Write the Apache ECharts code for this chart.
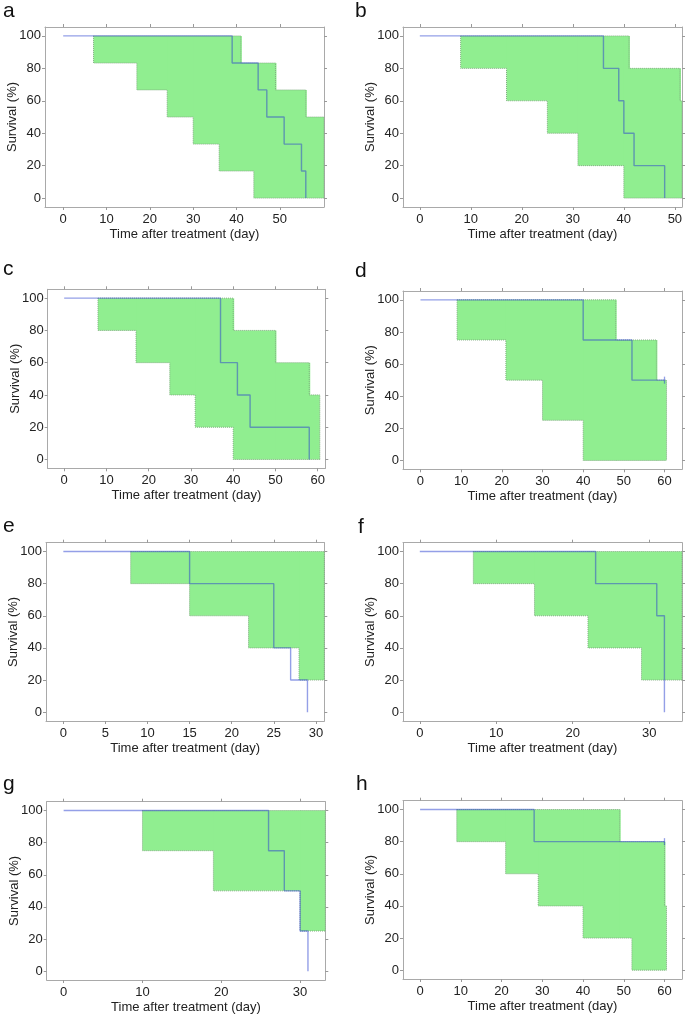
<!DOCTYPE html>
<html>
<head>
<meta charset="utf-8">
<script src="https://cdn.jsdelivr.net/npm/echarts@6/dist/echarts.min.js"></script>
<style>
  html, body { margin: 0; padding: 0; background: #fff; }
  #main { width: 685px; height: 1017px; }
</style>
</head>
<body>
<div id="main"></div>
<script>
// survival curves: [day, survival %] (step after each point)
var survA = [[0,100],[39,83.3],[45,66.7],[47,50],[51,33.3],[55,16.7],[56,0]];
var survB = [[0,100],[36,80],[39,60],[40,40],[42,20],[48,0]];
var survC = [[0,100],[37,60],[41,40],[44,20],[58,0]];
var survD = [[0,100],[40,75],[52,50],[60,50]];
var survE = [[0,100],[15,80],[25,40],[27,20],[29,0]];
var survF = [[0,100],[23,80],[31,60],[32,0]];
var survG = [[0,100],[26,75],[28,50],[30,25],[31,0]];
var survH = [[0,100],[28,80],[60,80]];

// censored marks
var censorD = [[60,50]];
var censorH = [[60,80]];

// confidence band, upper and lower steps
var upperA = [[7,100],[41,83.3],[49,66.7],[56,50]];
var lowerA = [[7,83.3],[17,66.7],[24,50],[30,33.3],[36,16.7],[44,0]];
var upperB = [[8,100],[41,80],[51,60]];
var lowerB = [[8,80],[17,60],[25,40],[31,20],[40,0]];
var upperC = [[8,100],[40,80],[50,60],[58,40]];
var lowerC = [[8,80],[17,60],[25,40],[31,20],[40,0]];
var upperD = [[9,100],[48,75],[58,50]];
var lowerD = [[9,75],[21,50],[30,25],[40,0]];
var upperE = [[8,100]];
var lowerE = [[8,80],[15,60],[22,40],[28,20]];
var upperF = [[7,100]];
var lowerF = [[7,80],[15,60],[22,40],[29,20]];
var upperG = [[10,100]];
var lowerG = [[10,75],[19,50],[30,25]];
var upperH = [[9,100],[49,80],[60,40]];
var lowerH = [[9,80],[21,60],[29,40],[40,20],[52,0]];

// tick labels
var yTicks = [0,20,40,60,80,100];
var xTicks50 = [0,10,20,30,40,50];
var xTicks60 = [0,10,20,30,40,50,60];
var xTicks30by5 = [0,5,10,15,20,25,30];
var xTicks30 = [0,10,20,30];

var panels = [
  {name:'a', box:[45,27,279,180],    xr:[-4.2,60.2], xt:xTicks50,   surv:survA, up:upperA, lo:lowerA, end:60.2, cens:[], lab:[3,1]},
  {name:'b', box:[403,27,279,180],   xr:[-3.3,51.4], xt:xTicks50,   surv:survB, up:upperB, lo:lowerB, end:51.4, cens:[], lab:[355,1]},
  {name:'c', box:[47.7,289.3,277.6,179], xr:[-3.9,61.8], xt:xTicks60, surv:survC, up:upperC, lo:lowerC, end:60.5, cens:[], lab:[3,259]},
  {name:'d', box:[403,291,279,178.3], xr:[-4.3,64.3], xt:xTicks60,  surv:survD, up:upperD, lo:lowerD, end:60.5, cens:censorD, lab:[355,261]},
  {name:'e', box:[46,542.7,278.3,178.3], xr:[-2.06,31], xt:xTicks30by5, surv:survE, up:upperE, lo:lowerE, end:31, cens:[], lab:[3,516]},
  {name:'f', box:[403,542.7,279,178.3], xr:[-2.2,34.3], xt:xTicks30, surv:survF, up:upperF, lo:lowerF, end:34.3, cens:[], lab:[358,517]},
  {name:'g', box:[46.7,801.7,278.6,178.3], xr:[-2.15,33.2], xt:xTicks30, surv:survG, up:upperG, lo:lowerG, end:33.2, cens:[], lab:[3,774]},
  {name:'h', box:[403,800.7,279,178.3], xr:[-4.2,64.3], xt:xTicks60, surv:survH, up:upperH, lo:lowerH, end:60.5, cens:censorH, lab:[356,774]}
];

var FONT = 'Liberation Sans, Arial, Helvetica, sans-serif';
var BOX = '#a9a9a9';
var LINE = '#2a40d0';

function stepAt(steps, t) {
  var v = steps[0][1];
  for (var i = 0; i < steps.length; i++) {
    if (steps[i][0] <= t) v = steps[i][1];
  }
  return v;
}

// split the band into rectangles between breakpoints
function bandRects(up, lo, end) {
  var xs = [];
  up.concat(lo).forEach(function(p){ if (xs.indexOf(p[0]) < 0) xs.push(p[0]); });
  xs.push(end);
  xs.sort(function(a,b){ return a-b; });
  var out = [];
  for (var i = 0; i < xs.length - 1; i++) {
    out.push([xs[i], xs[i+1], stepAt(lo, xs[i]), stepAt(up, xs[i])]);
  }
  return out;
}

var option = {
  animation: false,
  grid: [], xAxis: [], yAxis: [], series: [], graphic: []
};

panels.forEach(function(p, i){
  option.grid.push({left:p.box[0], top:p.box[1], width:p.box[2], height:p.box[3], outerBoundsMode:'none'});
  var tickStyle = {show:true, inside:false, length:3, lineStyle:{color:'#999'}};
  option.xAxis.push({
    type:'value', gridIndex:i, min:p.xr[0], max:p.xr[1], position:'bottom',
    name:'Time after treatment (day)', nameLocation:'middle', nameGap:21,
    nameTextStyle:{fontFamily:FONT, fontSize:13, color:'#222'},
    axisLine:{show:true, onZero:false, lineStyle:{color:BOX}},
    axisTick:Object.assign({customValues:p.xt}, tickStyle),
    axisLabel:{customValues:p.xt, fontFamily:FONT, fontSize:13, color:'#222', margin:6},
    splitLine:{show:false}
  });
  option.xAxis.push({
    type:'value', gridIndex:i, min:p.xr[0], max:p.xr[1], position:'top',
    axisLine:{show:true, onZero:false, lineStyle:{color:BOX}},
    axisTick:Object.assign({customValues:p.xt}, tickStyle),
    axisLabel:{show:false}, splitLine:{show:false}
  });
  option.yAxis.push({
    type:'value', gridIndex:i, min:-5.5, max:105.5, position:'left',
    name:'Survival (%)', nameLocation:'middle', nameGap:26, nameMoveOverlap:false,
    nameTextStyle:{fontFamily:FONT, fontSize:13, color:'#222'},
    axisLine:{show:true, onZero:false, lineStyle:{color:BOX}},
    axisTick:Object.assign({customValues:yTicks}, tickStyle),
    axisLabel:{customValues:yTicks, fontFamily:FONT, fontSize:13, color:'#222', margin:4},
    splitLine:{show:false}
  });
  option.yAxis.push({
    type:'value', gridIndex:i, min:-5.5, max:105.5, position:'right',
    axisLine:{show:true, onZero:false, lineStyle:{color:BOX}},
    axisTick:Object.assign({customValues:yTicks}, tickStyle),
    axisLabel:{show:false}, splitLine:{show:false}
  });
  var xi = 2*i, yi = 2*i;

  // green band
  option.series.push({
    type:'custom', xAxisIndex:xi, yAxisIndex:yi, z:1, silent:true,
    data: bandRects(p.up, p.lo, p.end),
    encode:{x:[0,1], y:[2,3]},
    renderItem: function(params, api){
      var a = api.coord([api.value(0), api.value(3)]);
      var b = api.coord([api.value(1), api.value(2)]);
      var extra = api.value(1) < p.end ? 1 : 0;
      return {type:'rect', shape:{x:a[0], y:a[1], width:b[0]-a[0]+extra, height:b[1]-a[1]},
              style:{fill:'#90ee90', stroke:null, lineWidth:0, opacity:1}};
    }
  });
  // dotted outlines of the band
  var upLine = p.up.concat([[p.end, p.up[p.up.length-1][1]], [p.end, p.lo[p.lo.length-1][1]]]);
  var loLine = [[p.lo[0][0], p.up[0][1]]].concat(p.lo, [[p.end, p.lo[p.lo.length-1][1]]]);
  [upLine, loLine].forEach(function(d){
    option.series.push({
      type:'line', xAxisIndex:xi, yAxisIndex:yi, z:2, step:'end', symbol:'none', silent:true,
      data:d, lineStyle:{color:'#80ad80', width:1, type:'dotted'}
    });
  });
  // survival curve
  option.series.push({
    type:'line', xAxisIndex:xi, yAxisIndex:yi, z:3, step:'end', symbol:'none', silent:true,
    data:p.surv, lineStyle:{color:LINE, width:1.4, opacity:0.5}
  });
  if (p.cens.length) {
    option.series.push({
      type:'scatter', xAxisIndex:xi, yAxisIndex:yi, z:4, silent:true,
      symbol:'rect', symbolSize:[1.3,7], data:p.cens,
      itemStyle:{color:LINE, opacity:0.5}
    });
  }
  option.graphic.push({
    type:'text', left:p.lab[0], top:p.lab[1],
    style:{text:p.name, font:'21px ' + FONT, fill:'#111'}
  });
});

var chart = echarts.init(document.getElementById('main'), null, {renderer:'canvas'});
chart.setOption(option);
</script>
</body>
</html>
